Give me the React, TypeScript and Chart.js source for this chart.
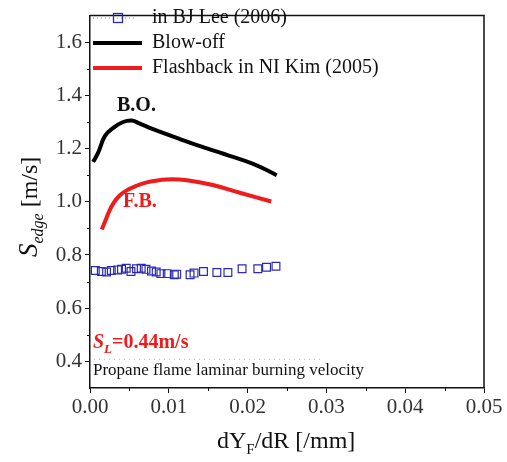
import React, { useEffect, useRef } from "react";
import { Chart, registerables } from "chart.js";

Chart.register(...registerables);

const xMajorTicks = [0, 0.01, 0.02, 0.03, 0.04, 0.05];
const xMinorTicks = [0.005, 0.015, 0.025, 0.035, 0.045];
const yMajorTicks = [0.4, 0.6, 0.8, 1.0, 1.2, 1.4, 1.6];
const yMinorTicks = [0.5, 0.7, 0.9, 1.1, 1.3, 1.5];

const leeX = [0.00067, 0.00144, 0.0021, 0.0027, 0.0035, 0.004, 0.0046, 0.0052, 0.0059, 0.0065, 0.0071, 0.0078, 0.0084, 0.009, 0.0098, 0.0107, 0.011, 0.0127, 0.0132, 0.0144, 0.0161, 0.0175, 0.0193, 0.0213, 0.0224, 0.0236];
const leeY = [0.742, 0.738, 0.736, 0.742, 0.744, 0.746, 0.75, 0.738, 0.748, 0.75, 0.746, 0.74, 0.736, 0.73, 0.73, 0.726, 0.728, 0.726, 0.732, 0.738, 0.734, 0.734, 0.748, 0.748, 0.754, 0.758];

const blowX = [0.0004, 0.00105, 0.0019, 0.003, 0.0042, 0.0053, 0.0061, 0.008, 0.0114, 0.0156, 0.0207, 0.0237];
const blowY = [1.15, 1.186, 1.248, 1.279, 1.3, 1.306, 1.297, 1.273, 1.236, 1.193, 1.143, 1.1];

const fbX = [0.0015, 0.0019, 0.0024, 0.003, 0.0037, 0.0046, 0.0058, 0.0072, 0.0097, 0.0123, 0.0156, 0.019, 0.023];
const fbY = [0.896, 0.925, 0.962, 0.996, 1.022, 1.042, 1.059, 1.073, 1.084, 1.081, 1.063, 1.034, 1.001];

const slLineX = [0.0005, 0.0295];
const slLineY = [0.408, 0.408];

const legendLabels = ["in BJ Lee (2006)", "Blow-off", "Flashback in NI Kim (2005)"];

const SERIF = "'Liberation Serif', 'Times New Roman', serif";
const BLUE = "#2a2ab4";
const RED = "#ee1c1c";

function drawRich(ctx: CanvasRenderingContext2D, x: number, y: number, parts: { t: string; f: string; dy?: number; c?: string }[]) {
  let cx = x;
  for (const p of parts) {
    ctx.font = p.f;
    if (p.c) ctx.fillStyle = p.c;
    ctx.fillText(p.t, cx, y + (p.dy || 0));
    cx += ctx.measureText(p.t).width;
  }
  return cx;
}

const decorPlugin = {
  id: "decor",
  afterDraw(chart: any) {
    const ctx: CanvasRenderingContext2D = chart.ctx;
    const { left, right, top, bottom } = chart.chartArea;
    const xs = chart.scales.x;
    const ys = chart.scales.y;
    ctx.save();
    // frame (top & right)
    ctx.strokeStyle = "#111";
    ctx.lineWidth = 1.5;
    ctx.beginPath();
    ctx.moveTo(left, top);
    ctx.lineTo(right, top);
    ctx.lineTo(right, bottom);
    ctx.stroke();
    // minor ticks
    ctx.lineWidth = 1;
    ctx.beginPath();
    for (const v of xMinorTicks) {
      const px = Math.round(xs.getPixelForValue(v)) + 0.5;
      ctx.moveTo(px, bottom);
      ctx.lineTo(px, bottom + 3);
    }
    for (const v of yMinorTicks) {
      const py = Math.round(ys.getPixelForValue(v)) + 0.5;
      ctx.moveTo(left, py);
      ctx.lineTo(left - 3, py);
    }
    ctx.stroke();

    // legend
    ctx.textBaseline = "middle";
    ctx.textAlign = "left";
    const lx0 = left + 3;
    const lx1 = left + 52;
    const tx = left + 62;
    const rows = [18, 43, 68];
    // row 1: dotted line + square
    ctx.strokeStyle = "#8a8ad0";
    ctx.lineWidth = 1;
    ctx.setLineDash([1, 3]);
    ctx.beginPath();
    ctx.moveTo(lx0, rows[0]);
    ctx.lineTo(lx0 + 42, rows[0]);
    ctx.stroke();
    ctx.setLineDash([]);
    ctx.strokeStyle = BLUE;
    ctx.lineWidth = 1.3;
    ctx.strokeRect(left + 23.5, rows[0] - 4.5, 9, 9);
    // rows 2,3: lines
    ctx.lineWidth = 4;
    ctx.strokeStyle = "#000";
    ctx.beginPath();
    ctx.moveTo(lx0, rows[1]);
    ctx.lineTo(lx1, rows[1]);
    ctx.stroke();
    ctx.strokeStyle = RED;
    ctx.beginPath();
    ctx.moveTo(lx0, rows[2]);
    ctx.lineTo(lx1, rows[2]);
    ctx.stroke();
    ctx.fillStyle = "#111";
    ctx.font = `20px ${SERIF}`;
    legendLabels.forEach((t, i) => ctx.fillText(t, tx, rows[i]));

    // annotations
    ctx.textBaseline = "alphabetic";
    ctx.font = `bold 20px ${SERIF}`;
    ctx.fillStyle = "#111";
    ctx.fillText("B.O.", 117, 111);
    ctx.fillStyle = RED;
    ctx.fillText("F.B.", 123, 207);

    drawRich(ctx, 93, 348, [
      { t: "S", f: `italic bold 20px ${SERIF}`, c: RED },
      { t: "L", f: `italic bold 13px ${SERIF}`, dy: 5 },
      { t: "=0.44m/s", f: `bold 20px ${SERIF}` },
    ]);
    ctx.fillStyle = "#111";
    ctx.font = `17px ${SERIF}`;
    ctx.fillText("Propane flame laminar burning velocity", 93, 375);

    // x-axis title
    ctx.fillStyle = "#111";
    drawRich(ctx, 217, 448, [
      { t: "dY", f: `24px ${SERIF}` },
      { t: "F", f: `15px ${SERIF}`, dy: 6 },
      { t: "/dR [/mm]", f: `24px ${SERIF}` },
    ]);

    // y-axis title
    ctx.translate(37, 257);
    ctx.rotate(-Math.PI / 2);
    drawRich(ctx, 0, 0, [
      { t: "S", f: `italic 27px ${SERIF}` },
      { t: "edge", f: `italic 16px ${SERIF}`, dy: 6 },
      { t: " [m/s]", f: `24px ${SERIF}` },
    ]);
    ctx.restore();
  },
};

export default function App() {
  const ref = useRef<HTMLCanvasElement>(null);
  useEffect(() => {
    document.body.style.margin = "0";
    const canvas = ref.current!;
    const chart = new Chart(canvas, {
      type: "scatter",
      data: {
        datasets: [
          {
            label: legendLabels[0],
            data: leeX.map((x, i) => ({ x, y: leeY[i] })),
            showLine: false,
            pointStyle: "rect",
            pointRadius: 5.5,
            borderColor: BLUE,
            backgroundColor: "rgba(0,0,0,0)",
            borderWidth: 1.2,
          },
          {
            label: legendLabels[1],
            data: blowX.map((x, i) => ({ x, y: blowY[i] })),
            showLine: true,
            pointRadius: 0,
            borderColor: "#000",
            borderWidth: 4,
            tension: 0.4,
            borderJoinStyle: "round",
          },
          {
            label: legendLabels[2],
            data: fbX.map((x, i) => ({ x, y: fbY[i] })),
            showLine: true,
            pointRadius: 0,
            borderColor: RED,
            borderWidth: 4,
            tension: 0.4,
            borderJoinStyle: "round",
          },
          {
            label: "SL",
            data: slLineX.map((x, i) => ({ x, y: slLineY[i] })),
            showLine: true,
            pointRadius: 0,
            borderColor: "#d8a0a0",
            borderWidth: 1,
            borderDash: [1, 4],
          },
        ],
      },
      options: {
        responsive: false,
        animation: false,
        events: [],
        layout: { padding: { left: 0, top: 7, right: 23, bottom: 0 } },
        plugins: { legend: { display: false }, tooltip: { enabled: false } },
        scales: {
          x: {
            type: "linear",
            min: 0,
            max: 0.05,
            afterBuildTicks: (s: any) => {
              s.ticks = xMajorTicks.map((v) => ({ value: v }));
            },
            afterFit: (s: any) => {
              s.height = 74;
            },
            ticks: {
              callback: (v: any) => Number(v).toFixed(2),
              font: { family: SERIF, size: 21 },
              color: "#333",
              padding: 2,
              maxRotation: 0,
              autoSkip: false,
            },
            grid: { display: true, drawOnChartArea: false, drawTicks: true, tickLength: 5, color: "#111", lineWidth: 1 },
            border: { display: true, color: "#111", width: 1.5 },
          },
          y: {
            type: "linear",
            min: 0.3,
            max: 1.7,
            afterBuildTicks: (s: any) => {
              s.ticks = yMajorTicks.map((v) => ({ value: v }));
            },
            afterFit: (s: any) => {
              s.width = 90;
            },
            ticks: {
              callback: (v: any) => Number(v).toFixed(1),
              font: { family: SERIF, size: 21 },
              color: "#333",
              padding: 3,
              autoSkip: false,
            },
            grid: { display: true, drawOnChartArea: false, drawTicks: true, tickLength: 5, color: "#111", lineWidth: 1 },
            border: { display: true, color: "#111", width: 1.5 },
          },
        },
      } as any,
      plugins: [decorPlugin],
    });
    return () => chart.destroy();
  }, []);
  return (
    <div style={{ position: "absolute", left: 0, top: 0, width: 507, height: 462, background: "#fff" }}>
      <canvas ref={ref} width={507} height={462} style={{ width: 507, height: 462, display: "block" }} />
    </div>
  );
}
